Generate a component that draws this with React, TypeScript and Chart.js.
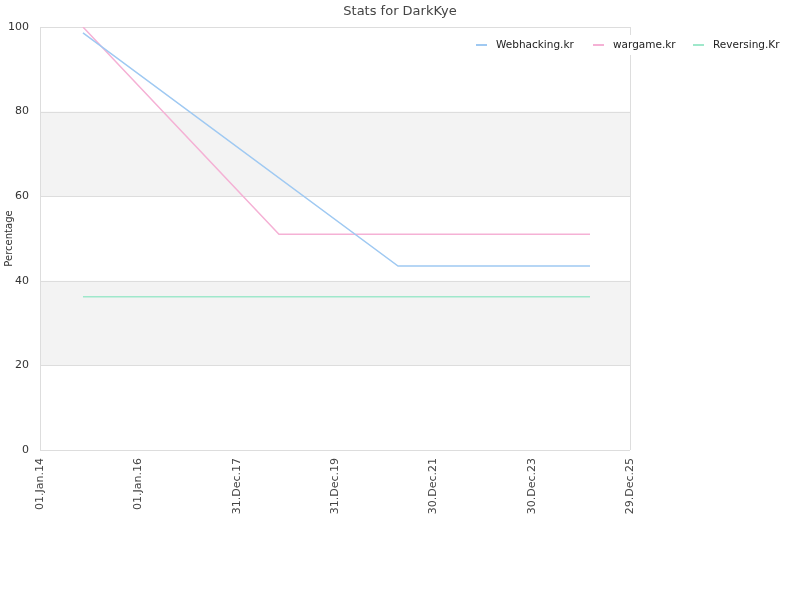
import React, { useEffect, useRef } from "react";
import { Chart, registerables } from "chart.js";

Chart.register(...registerables);

const title = "Stats for DarkKye";
const yAxisTitle = "Percentage";
const seriesNames = ["Webhacking.kr", "wargame.kr", "Reversing.Kr"];
const seriesColors = ["#9fc9f2", "#f5b1d5", "#9fe8cb"];

const xStart = "2014-01-01";
const xTickLabels = ["01.Jan.14", "01.Jan.16", "31.Dec.17", "31.Dec.19", "30.Dec.21", "30.Dec.23", "29.Dec.25"];
const xTickDays = [0, 730, 1460, 2190, 2920, 3650, 4380];

const webhackingDates = ["2014-11-16", "2021-04-12", "2025-03-07"];
const webhackingValues = [98.6, 43.5, 43.5];
const wargameDates = ["2014-11-16", "2018-11-10", "2025-03-07"];
const wargameValues = [100, 51, 51];
const reversingDates = ["2014-11-16", "2025-03-07"];
const reversingValues = [36.2, 36.2];

const bands = [[20, 40], [60, 80]];

const dayOf = (d: string) => (Date.parse(d) - Date.parse(xStart)) / 86400000;
const toPoints = (dates: string[], vals: number[]) => dates.map((d, i) => ({ x: dayOf(d), y: vals[i] }));

const FONT = "'DejaVu Sans', Verdana, sans-serif";

const decorPlugin = {
  id: "decor",
  beforeDatasetsDraw(chart: any) {
    const { ctx, chartArea: a, scales } = chart;
    const y = scales.y;
    ctx.save();
    ctx.fillStyle = "#f3f3f3";
    bands.forEach(([lo, hi]) => {
      const t = y.getPixelForValue(hi);
      const b = y.getPixelForValue(lo);
      ctx.fillRect(a.left, t, a.right - a.left, b - t);
    });
    ctx.strokeStyle = "#dddddd";
    ctx.lineWidth = 1;
    [0, 20, 40, 60, 80, 100].forEach((v) => {
      const p = Math.round(y.getPixelForValue(v)) + 0.5;
      ctx.beginPath();
      ctx.moveTo(a.left, p);
      ctx.lineTo(a.right, p);
      ctx.stroke();
    });
    ctx.beginPath();
    ctx.moveTo(Math.round(a.left) + 0.5, a.top);
    ctx.lineTo(Math.round(a.left) + 0.5, a.bottom);
    ctx.moveTo(Math.round(a.right) + 0.5, a.top);
    ctx.lineTo(Math.round(a.right) + 0.5, a.bottom);
    ctx.stroke();
    ctx.restore();
  },
  afterDraw(chart: any) {
    const { ctx } = chart;
    ctx.save();
    ctx.fillStyle = "#444";
    ctx.font = `13px ${FONT}`;
    ctx.textAlign = "center";
    ctx.textBaseline = "middle";
    ctx.fillText(title, 400, 12);
    // legend
    ctx.fillStyle = "#ffffff";
    ctx.fillRect(470, 35, 330, 20);
    ctx.font = `10.5px ${FONT}`;
    ctx.textAlign = "left";
    const xs = [476, 593, 693];
    seriesNames.forEach((n, i) => {
      ctx.fillStyle = seriesColors[i];
      ctx.fillRect(xs[i], 44, 11, 2);
      ctx.fillStyle = "#222";
      ctx.fillText(n, xs[i] + 20, 45);
    });
    ctx.restore();
  },
};

export default function App() {
  const ref = useRef<HTMLCanvasElement>(null);
  useEffect(() => {
    document.body.style.margin = "0";
    const chart = new Chart(ref.current!, {
      type: "line",
      data: {
        datasets: [
          { label: seriesNames[0], data: toPoints(webhackingDates, webhackingValues), borderColor: seriesColors[0] },
          { label: seriesNames[1], data: toPoints(wargameDates, wargameValues), borderColor: seriesColors[1] },
          { label: seriesNames[2], data: toPoints(reversingDates, reversingValues), borderColor: seriesColors[2] },
        ].map((d) => ({ ...d, borderWidth: 1.5, pointRadius: 0, fill: false, tension: 0 })),
      },
      options: {
        animation: false,
        responsive: false,
        layout: { padding: { left: 0, right: 170, top: 27, bottom: 0 } },
        plugins: { legend: { display: false }, title: { display: false }, tooltip: { enabled: false } },
        scales: {
          x: {
            type: "linear",
            min: 0,
            max: 4380,
            grid: { display: false, drawTicks: false },
            border: { display: false },
            afterBuildTicks: (s: any) => {
              s.ticks = xTickDays.map((v) => ({ value: v }));
            },
            afterFit: (s: any) => {
              s.height = 150;
            },
            ticks: {
              autoSkip: false,
              maxRotation: 90,
              minRotation: 90,
              padding: 8,
              color: "#444",
              font: { size: 11, family: FONT },
              callback: (_v: any, i: number) => xTickLabels[i],
            },
          },
          y: {
            min: 0,
            max: 100,
            grid: { display: false, drawTicks: false },
            border: { display: false },
            afterFit: (s: any) => {
              s.width = 40;
            },
            ticks: {
              stepSize: 20,
              padding: 11,
              color: "#333",
              font: { size: 11, family: FONT },
            },
            title: {
              display: true,
              text: yAxisTitle,
              color: "#333",
              padding: { top: 3, bottom: 0 },
              font: { size: 10, family: FONT },
            },
          },
        },
      },
      plugins: [decorPlugin],
    } as any);
    return () => chart.destroy();
  }, []);
  return <canvas ref={ref} width={800} height={600} style={{ display: "block" }} />;
}
